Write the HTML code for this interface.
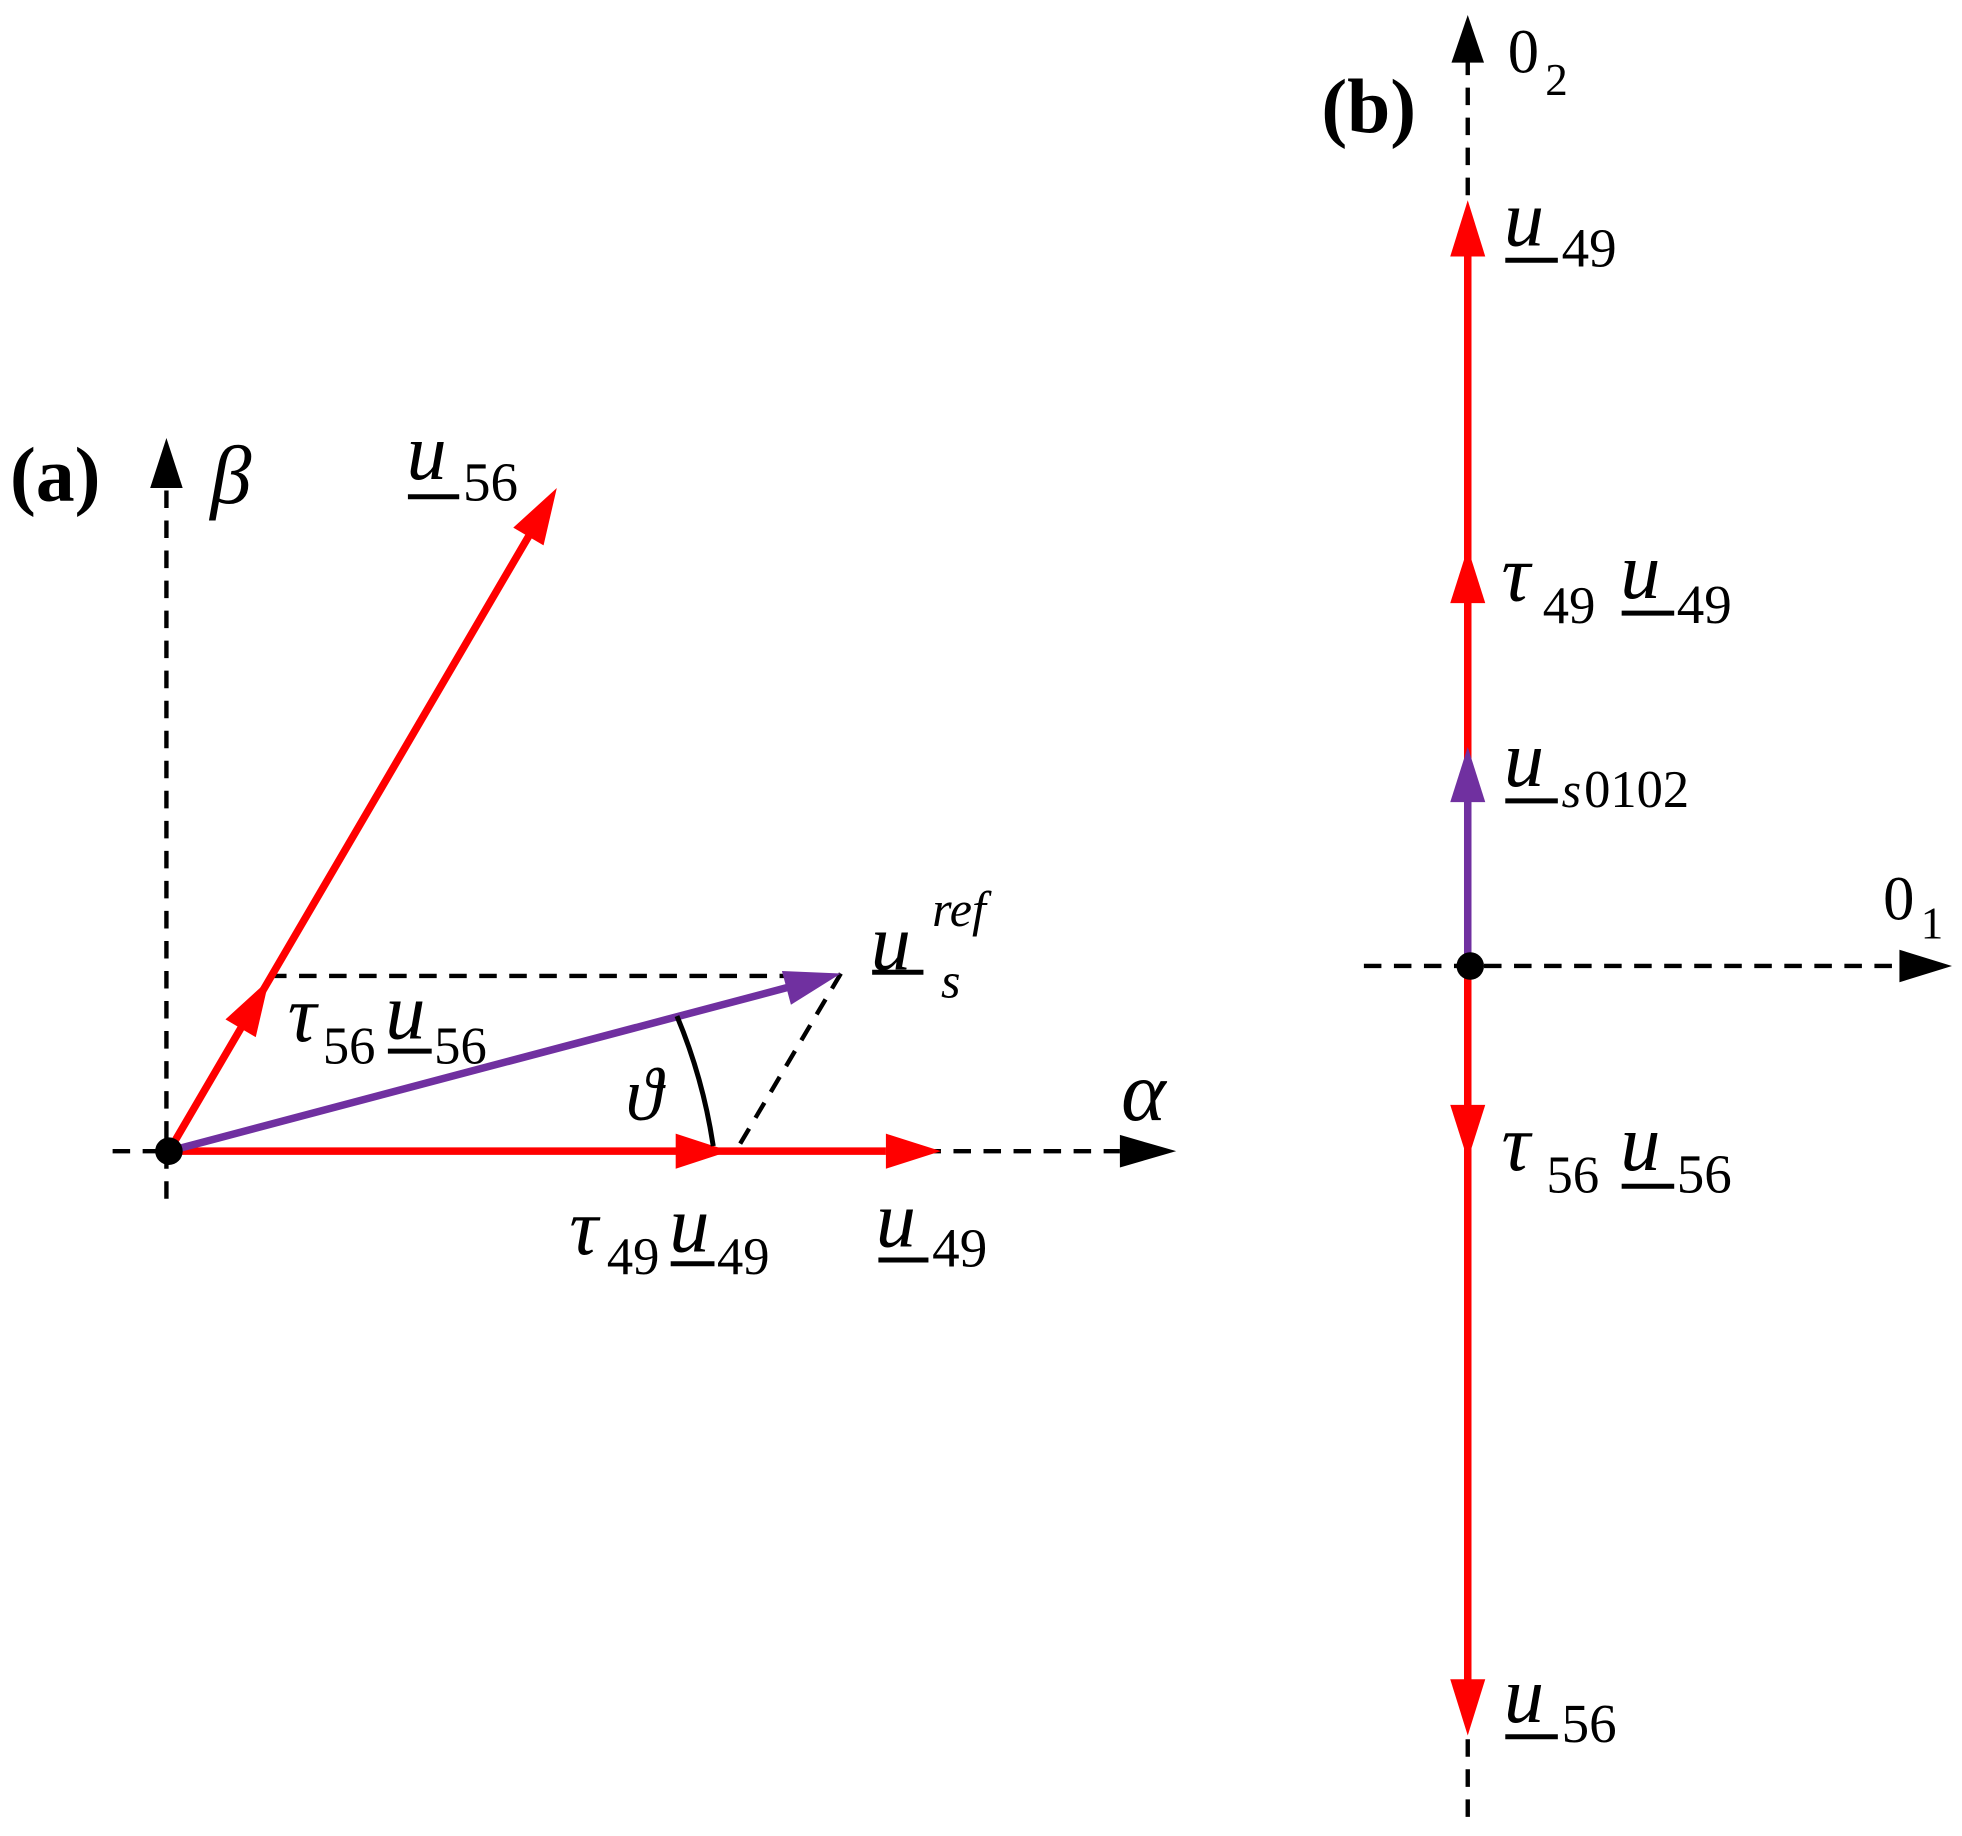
<!DOCTYPE html>
<html><head><meta charset="utf-8"><style>
html,body{margin:0;padding:0;background:#fff;}
svg{display:block;}
text{font-family:"Liberation Serif",serif;fill:#000;}
.i{font-style:italic;}
</style></head><body>
<svg width="1962" height="1836" viewBox="0 0 1568 1467.3" preserveAspectRatio="none" xmlns="http://www.w3.org/2000/svg">
<g stroke="#000" stroke-width="3.5" stroke-dasharray="14,10" fill="none">
<line x1="133" y1="958" x2="133" y2="388"/>
<line x1="90" y1="920" x2="895" y2="920"/>
<line x1="215" y1="780" x2="672" y2="780"/>
<line x1="672" y1="778" x2="588" y2="920"/>
<line x1="1173" y1="1452" x2="1173" y2="48"/>
<line x1="1090" y1="772" x2="1520" y2="772"/>
</g>
<polygon points="133,350 120,390 146,390" fill="#000"/>
<polygon points="940,920 895,907 895,933" fill="#000"/>
<polygon points="1173,12 1160,50 1186,50" fill="#000"/>
<polygon points="1560,772 1518,759 1518,785" fill="#000"/>
<g stroke="#f00" stroke-width="6">
<line x1="135" y1="920" x2="424" y2="426"/>
<line x1="135" y1="920" x2="708" y2="920"/>
</g>
<g fill="#f00">
<polygon points="445,390 434.4,435.9 410.2,421.7"/>
<polygon points="215,783 204.4,828.9 180.2,814.7"/>
<polygon points="583,920 540,906 540,934"/>
<polygon points="752,920 708,906 708,934"/>
</g>
<line x1="135" y1="920" x2="630" y2="789" stroke="#7030a0" stroke-width="6"/>
<polygon points="672,778 632.1,803 624.9,776" fill="#7030a0"/>
<path d="M541,812 A435,435 0 0 1 570,916" stroke="#000" stroke-width="4" fill="none"/>
<circle cx="135" cy="920" r="11" fill="#000"/>
<g stroke="#f00" stroke-width="6">
<line x1="1173" y1="772" x2="1173" y2="200"/>
<line x1="1173" y1="772" x2="1173" y2="1345"/>
</g>
<line x1="1173" y1="772" x2="1173" y2="640" stroke="#7030a0" stroke-width="6"/>
<g fill="#f00">
<polygon points="1173,160 1159,205 1187,205"/>
<polygon points="1173,438 1159,482 1187,482"/>
<polygon points="1173,927 1159,883 1187,883"/>
<polygon points="1173,1387 1159,1342 1187,1342"/>
</g>
<polygon points="1173,597 1159,641 1187,641" fill="#7030a0"/>
<circle cx="1175" cy="772" r="11" fill="#000"/>
<g stroke="#000" stroke-width="4">
<line x1="326" y1="397" x2="367" y2="397"/>
<line x1="697" y1="777" x2="738" y2="777"/>
<line x1="310" y1="840" x2="345" y2="840"/>
<line x1="536" y1="1010" x2="571" y2="1010"/>
<line x1="702" y1="1007" x2="742" y2="1007"/>
<line x1="1203" y1="208" x2="1245" y2="208"/>
<line x1="1296" y1="490" x2="1338" y2="490"/>
<line x1="1203" y1="640" x2="1245" y2="640"/>
<line x1="1296" y1="948" x2="1338" y2="948"/>
<line x1="1203" y1="1388" x2="1245" y2="1388"/>
</g>
<text x="8" y="400" font-size="62" font-weight="bold">(a)</text>
<text x="168" y="402" font-size="66" class="i">β</text>
<text x="325" y="383" font-size="64" class="i">u</text><text x="370" y="400" font-size="44">56</text>
<text x="696" y="775" font-size="64" class="i">u</text><text x="752" y="797" font-size="40" class="i">s</text><text x="745" y="740" font-size="40" class="i">ref</text>
<text x="230" y="832" font-size="64" class="i">τ</text><text x="258" y="850" font-size="42">56</text><text x="308" y="830" font-size="64" class="i">u</text><text x="347" y="850" font-size="42">56</text>
<text x="500" y="895" font-size="60" class="i">ϑ</text>
<text x="896" y="895" font-size="68" class="i">α</text>
<text x="455" y="1002" font-size="64" class="i">τ</text><text x="485" y="1018" font-size="42">49</text><text x="535" y="1000" font-size="64" class="i">u</text><text x="573" y="1018" font-size="42">49</text>
<text x="700" y="996" font-size="64" class="i">u</text><text x="745" y="1012" font-size="44">49</text>
<text x="1056" y="106" font-size="62" font-weight="bold">(b)</text>
<text x="1205" y="58" font-size="50">0</text><text x="1235" y="76" font-size="36">2</text>
<text x="1202" y="196" font-size="64" class="i">u</text><text x="1248" y="213" font-size="44">49</text>
<text x="1200" y="480" font-size="64" class="i">τ</text><text x="1233" y="498" font-size="42">49</text><text x="1295" y="478" font-size="64" class="i">u</text><text x="1340" y="498" font-size="44">49</text>
<text x="1202" y="628" font-size="64" class="i">u</text><text x="1248" y="645" font-size="40" class="i">s</text><text x="1266" y="645" font-size="42">0102</text>
<text x="1505" y="735" font-size="50">0</text><text x="1535" y="750" font-size="36">1</text>
<text x="1200" y="935" font-size="64" class="i">τ</text><text x="1236" y="953" font-size="42">56</text><text x="1295" y="935" font-size="64" class="i">u</text><text x="1340" y="953" font-size="44">56</text>
<text x="1202" y="1376" font-size="64" class="i">u</text><text x="1248" y="1392" font-size="44">56</text>
</svg>
</body></html>
